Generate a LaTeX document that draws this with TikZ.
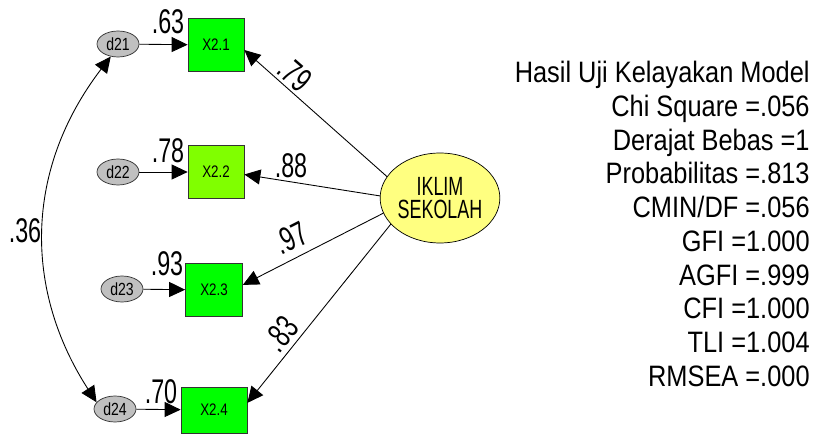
\documentclass[tikz,border=0pt]{standalone}
\usepackage{fontspec}
\setmainfont{Liberation Sans}[FakeStretch=0.8]
\newfontfamily\narrowfont{Liberation Sans}[FakeStretch=0.68]
\newfontfamily\statfont{Liberation Sans}[FakeStretch=0.86]
\usepackage{xcolor}
\usetikzlibrary{shapes,arrows.meta,positioning}

\definecolor{boxgreen}{RGB}{0,255,0}
\definecolor{boxlime}{RGB}{128,255,0}
\definecolor{errgray}{RGB}{192,192,192}
\definecolor{latyellow}{RGB}{255,255,128}

\begin{document}
\begin{tikzpicture}[
    x=0.02cm, y=-0.02cm,
    obs/.style={rectangle, draw=black!80, fill=boxgreen, minimum width=1.12cm, minimum height=1.06cm, inner sep=0pt, font=\fontsize{9.5}{11}\selectfont},
    err/.style={ellipse, draw=black!80, fill=errgray, minimum width=0.84cm, minimum height=0.52cm, inner sep=0pt, font=\fontsize{10}{11}\selectfont},
    latent/.style={ellipse, draw, fill=latyellow, minimum width=2.14cm, minimum height=1.8cm, inner sep=0pt, align=center, font=\narrowfont\fontsize{15}{13.5}\selectfont},
    arrow/.style={line width=0.5pt, -{Triangle[length=0.32cm,width=0.3cm]}},
    lbl/.style={inner sep=0pt, font=\narrowfont\fontsize{19.5}{22}\selectfont}
]
\useasboundingbox (0,0) rectangle (818,435);

% Indicators
\node[obs] (x21) at (216,45) {X2.1};
\node[obs, fill=boxlime] (x22) at (216,172) {X2.2};
\node[obs, minimum width=1.14cm] (x23) at (214,290) {X2.3};
\node[obs, minimum width=1.32cm, minimum height=0.92cm] (x24) at (214,410) {X2.4};

% Errors
\node[err] (d21) at (118,44) {d21};
\node[err] (d22) at (118,172) {d22};
\node[err] (d23) at (122,289) {d23};
\node[err] (d24) at (115,409) {d24};

% Latent
\node[latent] (iklim) at (440,198) {IKLIM\\SEKOLAH};

% Fit results
\node[anchor=north east, align=right, inner sep=0pt, font=\statfont\fontsize{16.8}{19.2}\selectfont] (fit) at (810,61) {Hasil Uji Kelayakan Model\\Chi Square =.056\\Derajat Bebas =1\\Probabilitas =.813\\CMIN/DF =.056\\GFI =1.000\\AGFI =.999\\CFI =1.000\\TLI =1.004\\RMSEA =.000};

% Arrows
\draw[arrow] (iklim.158) -- (x21.-10);
\draw[arrow] (iklim.178) -- (x22.-5);
\draw[arrow] (iklim.195) -- (x23.10);
\draw[arrow] (iklim.208) -- (x24.12);

\draw[arrow] (d21) -- (x21);
\draw[arrow] (d22) -- (x22);
\draw[arrow] (d23) -- (x23);
\draw[arrow] (d24) -- (x24);

\draw[line width=0.5pt, {Triangle[length=0.32cm,width=0.3cm]}-{Triangle[length=0.32cm,width=0.3cm]}] (d21.240) .. controls (24,170) and (24,290) .. (d24.160);

% Estimates
\node[lbl] (l63) at (168,22) {.63};
\node[lbl] (l78) at (168,151) {.78};
\node[lbl] (l93) at (167,264) {.93};
\node[lbl] (l70) at (161,392) {.70};
\node[lbl, rotate=-41] (l79) at (295,74) {.79};
\node[lbl] (l88) at (291,166) {.88};
\node[lbl, rotate=27] (l97) at (291,238) {.97};
\node[lbl, rotate=51] (l83) at (281,334) {.83};
\node[lbl] (l36) at (25,231) {.36};

\end{tikzpicture}
\end{document}
